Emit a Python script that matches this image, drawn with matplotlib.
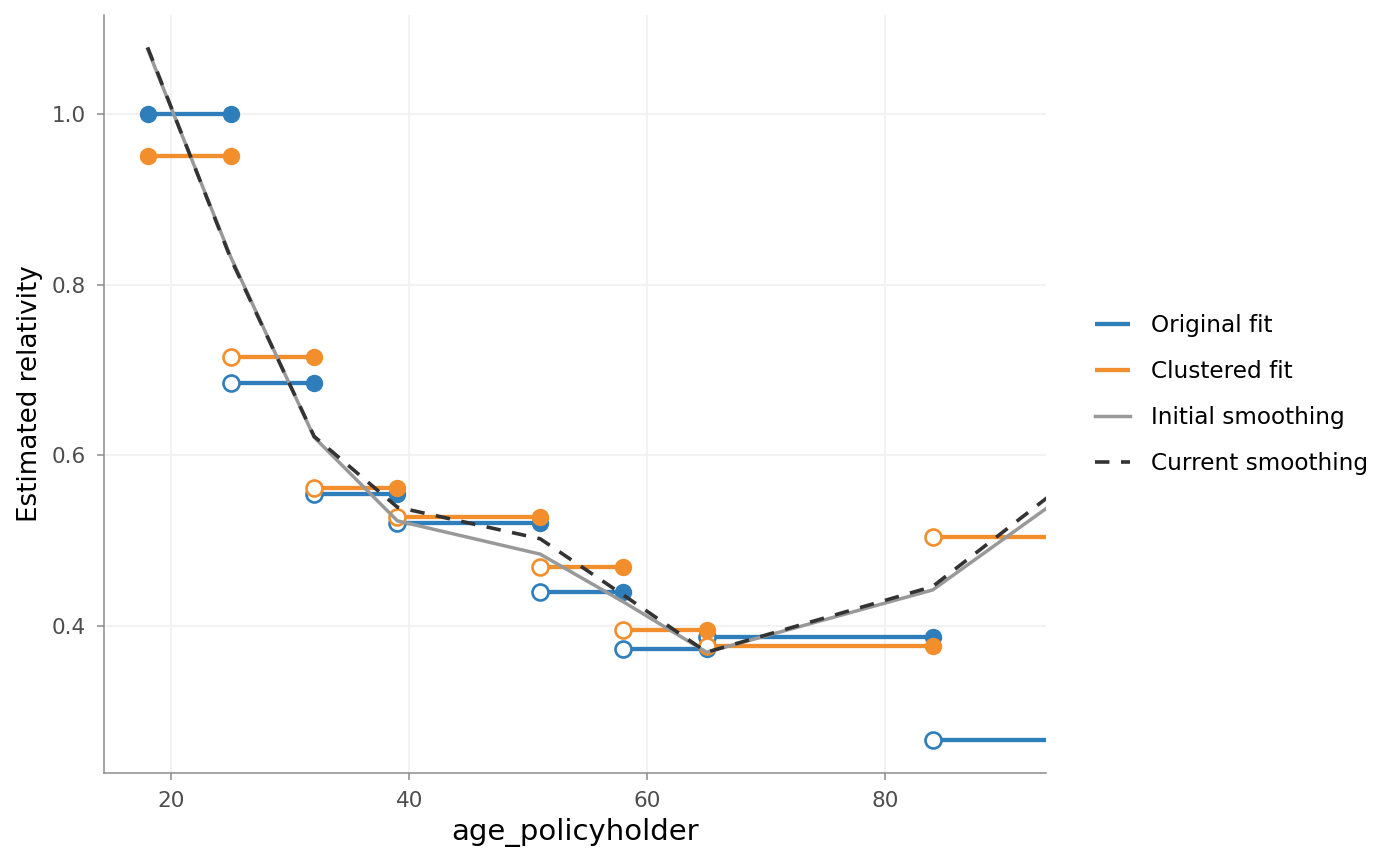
import matplotlib.pyplot as plt
import numpy as np

# age bands (left edges), last band runs past the right edge of the plot
age_breaks = [18, 25, 32, 39, 51, 58, 65, 84, 95]
original_fit = [1.000, 0.685, 0.554, 0.521, 0.439, 0.373, 0.387, 0.266]
clustered_fit = [0.951, 0.715, 0.562, 0.528, 0.469, 0.395, 0.376, 0.504]

# smoothing curves, knots at the band edges
smooth_age = [18, 25, 32, 39, 51, 58, 65, 84, 95]
initial_smoothing = [1.076, 0.832, 0.621, 0.523, 0.484, 0.428, 0.369, 0.442, 0.552]
current_smoothing = [1.078, 0.830, 0.622, 0.539, 0.502, 0.436, 0.369, 0.446, 0.565]

blue = '#2e7ebc'
orange = '#f28e2b'

fig = plt.figure(figsize=(14, 8.65), dpi=100)
ax = fig.add_axes([103.5 / 1400, 1 - 773 / 865, (1046 - 103.5) / 1400, (773 - 15) / 865])


def draw_steps(values, color, label):
    n = len(values)
    for i in range(n):
        x0, x1 = age_breaks[i], age_breaks[i + 1]
        ax.plot([x0, x1], [values[i], values[i]], color=color, lw=3.1,
                solid_capstyle='butt', label=label if i == 0 else None, zorder=2)
        # left end: open circle, except the first band
        if i == 0:
            ax.plot(x0, values[i], 'o', color=color, ms=11.5, zorder=3)
        else:
            ax.plot(x0, values[i], 'o', mfc='white', mec=color, mew=1.9, ms=11.5, zorder=3)
        # right end: filled circle, except the last band
        if i < n - 1:
            ax.plot(x1, values[i], 'o', color=color, ms=11.5, zorder=3)


draw_steps(original_fit, blue, 'Original fit')
draw_steps(clustered_fit, orange, 'Clustered fit')

ax.plot(smooth_age, initial_smoothing, color='#999999', lw=2.5, label='Initial smoothing', zorder=4)
ax.plot(smooth_age, current_smoothing, color='#333333', lw=2.6, dashes=(4, 3.2),
        label='Current smoothing', zorder=5)

ax.set_xlim(14.29, 93.53)
ax.set_ylim(0.2274, 1.116)
ax.set_xticks([20, 40, 60, 80])
ax.set_yticks([0.4, 0.6, 0.8, 1.0])
ax.set_yticklabels(['0.4', '0.6', '0.8', '1.0'])

ax.grid(True, color='#f0f0f0', lw=1.2, zorder=0)
ax.set_axisbelow(True)
for side in ['top', 'right']:
    ax.spines[side].set_visible(False)
for side in ['left', 'bottom']:
    ax.spines[side].set_color('#8c8c8c')
    ax.spines[side].set_linewidth(1.1)
ax.tick_params(colors='#8c8c8c', length=5, width=1.1, labelsize=15.5, labelcolor='#4d4d4d', pad=8)

ax.set_xlabel('age_policyholder', fontsize=21, labelpad=5)
ax.set_ylabel('Estimated relativity', fontsize=18.8, labelpad=6)

ax.legend(loc='center left', bbox_to_anchor=(1095 / 1400, 1 - 394.5 / 865),
          bbox_transform=fig.transFigure, frameon=False, fontsize=16.7,
          borderpad=0, borderaxespad=0, handlelength=1.5, handletextpad=0.9,
          labelspacing=1.0)

plt.savefig('out.png', dpi=100)
